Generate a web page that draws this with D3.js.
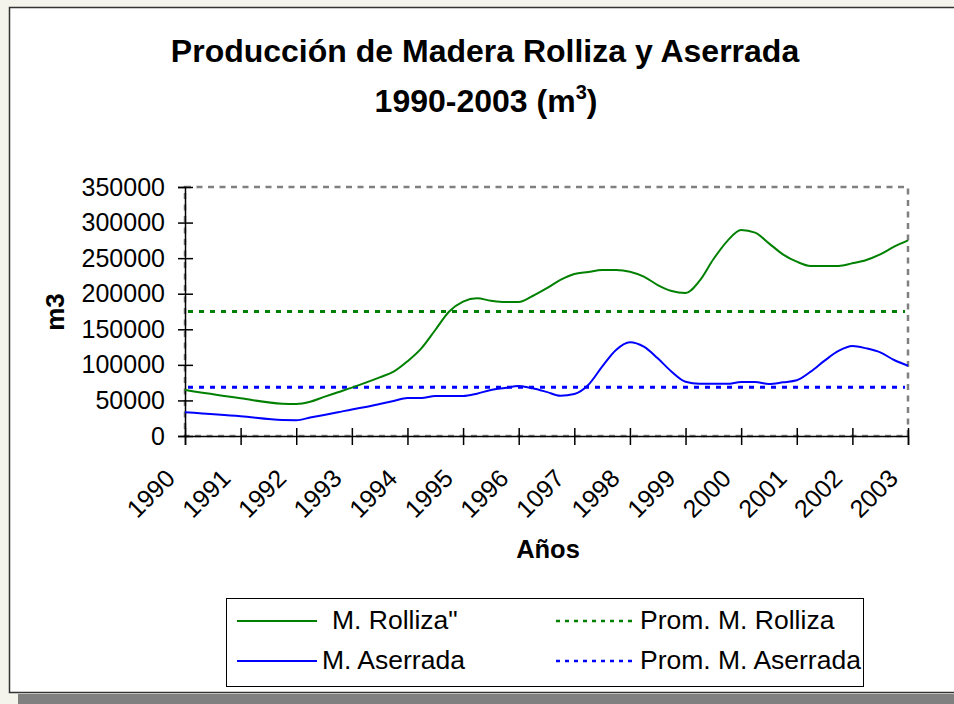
<!DOCTYPE html>
<html>
<head>
<meta charset="utf-8">
<script src="https://cdn.jsdelivr.net/npm/d3@7"></script>
<style>
  body { margin: 0; background: #f4f4ec; }
  svg { display: block; font-family: Arial, "Liberation Sans", sans-serif; }
</style>
</head>
<body>
<div id="chart"></div>
<script>
// etiquetas del eje x (tal cual aparecen, incluido "1097")
const years = [1990, 1991, 1992, 1993, 1994, 1995, 1996, 1997, 1998, 1999, 2000, 2001, 2002, 2003]
const yearLabels = ['1990', '1991', '1992', '1993', '1994', '1995', '1996', '1097', '1998', '1999', '2000', '2001', '2002', '2003']
const yTicks = [0, 50000, 100000, 150000, 200000, 250000, 300000, 350000]

// puntos (por trimestre donde la curva cambia)
const periodo = [1990, 1991, 1991.75, 1992, 1992.25, 1992.5, 1992.75, 1993, 1993.25, 1993.5, 1993.75,
    1994, 1994.25, 1994.5, 1994.75, 1995, 1995.25, 1995.5, 1995.75, 1996, 1996.25, 1996.5, 1996.75,
    1997, 1997.25, 1997.5, 1997.75, 1998, 1998.25, 1998.5, 1998.75, 1999, 1999.25, 1999.5, 1999.75,
    2000, 2000.25, 2000.5, 2000.75, 2001, 2001.25, 2001.5, 2001.75, 2002, 2002.25, 2002.5, 2002.75, 2003]

const rolliza = [64700, 53000, 45400, 45100, 48200, 55000, 61500, 68000, 75000, 82500, 90400,
    105000, 123200, 149000, 175000, 188800, 193500, 190200, 188300, 188300, 196800, 207500, 219300,
    227700, 230500, 233300, 233300, 231000, 224000, 212200, 203800, 201000, 217900, 248400, 274000,
    289600, 285800, 270800, 255400, 245000, 239000, 239000, 239000, 242700, 247400, 255400, 266100, 275000]

const aserrada = [33300, 27700, 22500, 22300, 25900, 29600, 33400, 37300, 40800, 45000, 49200,
    53400, 53400, 56200, 56200, 56200, 59500, 64700, 67500, 70300, 67000, 62000, 56500,
    59000, 71700, 97400, 120900, 131700, 125500, 109200, 90400, 76300, 73500, 73500, 73300,
    75900, 75900, 73100, 75400, 78300, 90400, 105900, 119500, 126500, 123200, 117600, 106800, 98800]

const promRolliza = 175000
const promAserrada = 68500

const W = 954, H = 704
const svg = d3.select('#chart').append('svg')
    .attr('width', W)
    .attr('height', H)

// sombra y marco
svg.append('rect').attr('x', 18).attr('y', 694).attr('width', W).attr('height', 12).attr('fill', '#808080')
svg.append('rect')
    .attr('x', 9.5).attr('y', 7.5)
    .attr('width', W).attr('height', 685)
    .attr('fill', '#fff').attr('stroke', '#333').attr('stroke-width', 1.5)

const x = d3.scaleLinear().domain([1990, 2003]).range([185, 908])
const y = d3.scaleLinear().domain([0, 350000]).range([436, 187])

// borde punteado del area de trazado
svg.append('rect')
    .attr('x', x(1990)).attr('y', y(350000))
    .attr('width', x(2003) - x(1990)).attr('height', y(0) - y(350000))
    .attr('fill', 'none').attr('stroke', '#808080').attr('stroke-width', 2.5)
    .attr('stroke-dasharray', '6,5.5')

// titulo
svg.append('text')
    .attr('x', 485).attr('y', 62)
    .attr('text-anchor', 'middle')
    .style('font-size', '32px').style('font-weight', 'bold')
    .text('Producción de Madera Rolliza y Aserrada')

const t2 = svg.append('text')
    .attr('x', 486).attr('y', 112)
    .attr('text-anchor', 'middle')
    .style('font-size', '32px').style('font-weight', 'bold')
t2.append('tspan').text('1990-2003 (m')
t2.append('tspan').attr('dy', -13).style('font-size', '20px').text('3')
t2.append('tspan').attr('dy', 13).text(')')

// ejes
const leftAxis = d3.axisLeft(y).tickValues(yTicks).tickSize(7).tickPadding(13).tickFormat(d3.format('d'))
const gy = svg.append('g').attr('transform', `translate(${x(1990)},0)`).call(leftAxis)
gy.select('.domain').attr('stroke', '#000').attr('stroke-width', 1.5)
gy.selectAll('.tick line').attr('x1', 8).attr('stroke-width', 1.5)
gy.selectAll('.tick text').style('font-size', '25px').style('font-family', 'Arial, "Liberation Sans", sans-serif').attr('fill', '#000')

const bottomAxis = d3.axisBottom(x).tickValues(years).tickSize(9).tickFormat((d, i) => yearLabels[i])
const gx = svg.append('g').attr('transform', `translate(0,${y(0)})`).call(bottomAxis)
gx.select('.domain').attr('stroke', '#000').attr('stroke-width', 1.5)
gx.selectAll('.tick line').attr('y1', -8).attr('stroke-width', 1.5)
gx.selectAll('.tick text')
    .style('font-size', '25px').style('font-family', 'Arial, "Liberation Sans", sans-serif').attr('fill', '#000')
    .attr('text-anchor', 'end')
    .attr('y', 0).attr('dy', 0)
    .attr('transform', 'translate(-9,44) rotate(-45)')

// titulos de ejes
svg.append('text')
    .attr('transform', 'translate(64,312) rotate(-90)')
    .attr('text-anchor', 'middle')
    .style('font-size', '26px').style('font-weight', 'bold')
    .text('m3')

svg.append('text')
    .attr('x', 548).attr('y', 558)
    .attr('text-anchor', 'middle')
    .style('font-size', '25.5px').style('font-weight', 'bold')
    .text('Años')

// lineas de promedio
svg.append('line')
    .attr('x1', x(1990) + 3).attr('x2', x(2003) - 3)
    .attr('y1', y(promRolliza)).attr('y2', y(promRolliza))
    .attr('stroke', '#008000').attr('stroke-width', 3).attr('stroke-dasharray', '5,6')
svg.append('line')
    .attr('x1', x(1990) + 3).attr('x2', x(2003) - 3)
    .attr('y1', y(promAserrada)).attr('y2', y(promAserrada))
    .attr('stroke', '#0000ff').attr('stroke-width', 3).attr('stroke-dasharray', '5,6')

// series
const line = d3.line()
    .x((d, i) => x(periodo[i]))
    .y(d => y(d))
    .curve(d3.curveMonotoneX)

svg.append('path').datum(rolliza)
    .attr('d', line).attr('fill', 'none')
    .attr('stroke', '#008000').attr('stroke-width', 2)
svg.append('path').datum(aserrada)
    .attr('d', line).attr('fill', 'none')
    .attr('stroke', '#0000ff').attr('stroke-width', 2)

// leyenda
const legend = svg.append('g')
legend.append('rect')
    .attr('x', 226.5).attr('y', 598.5).attr('width', 637).attr('height', 88)
    .attr('fill', '#fff').attr('stroke', '#000').attr('stroke-width', 1)

const items = [
    { label: 'M. Rolliza"', color: '#008000', dash: null, x1: 237, tx: 332, y: 621 },
    { label: 'M. Aserrada', color: '#0000ff', dash: null, x1: 237, tx: 322, y: 661 },
    { label: 'Prom. M. Rolliza', color: '#008000', dash: '4,5', x1: 556, tx: 640, y: 621 },
    { label: 'Prom. M. Aserrada', color: '#0000ff', dash: '4,5', x1: 556, tx: 640, y: 661 }
]
items.forEach(it => {
    legend.append('line')
        .attr('x1', it.x1).attr('x2', it.x1 + 80)
        .attr('y1', it.y).attr('y2', it.y)
        .attr('stroke', it.color)
        .attr('stroke-width', it.dash ? 2.5 : 2)
        .attr('stroke-dasharray', it.dash)
    legend.append('text')
        .attr('x', it.tx).attr('y', it.y + 8)
        .style('font-size', '26.5px')
        .text(it.label)
})
</script>
</body>
</html>
